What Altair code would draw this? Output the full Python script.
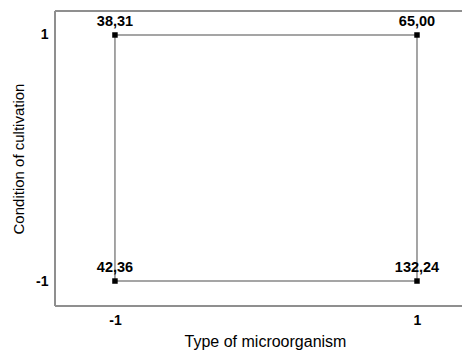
import altair as alt
import pandas as pd

# Data
micro = [-1, 1, -1, 1]
cond = [1, 1, -1, -1]
labels = ["38,31", "65,00", "42,36", "132,24"]
path_order = [0, 1, 3, 2]
tick_values = [-1, 1]

pts = pd.DataFrame({"micro": micro, "cond": cond, "label": labels, "order": path_order})
path = pd.concat([pts, pts[pts["order"] == 0].assign(order=4)], ignore_index=True)

FONT = "Liberation Sans"
W, H = 407, 295
LBL = "datum.value < 0 ? '-1' : '1'"

xs = alt.Scale(domain=[-1.397, 1.298], nice=False, zero=False)
ys = alt.Scale(domain=[-1.203, 1.195], nice=False, zero=False)

xenc = alt.X("micro:Q", scale=xs, title="Type of microorganism",
             axis=alt.Axis(values=tick_values, tickSize=0, domain=False, grid=False,
                           labelExpr=LBL,
                           labelFont=FONT, labelFontSize=14, labelFontWeight="bold",
                           labelColor="#000", labelPadding=7,
                           titleFont=FONT, titleFontSize=16, titleFontWeight="normal",
                           titleColor="#000", titlePadding=6, titleX=210))
yenc = alt.Y("cond:Q", scale=ys, title="Condition of cultivation",
             axis=alt.Axis(values=tick_values, tickSize=0, domain=False, grid=False,
                           labelExpr=LBL,
                           labelFont=FONT, labelFontSize=14, labelFontWeight="bold",
                           labelColor="#000", labelPadding=7,
                           titleFont=FONT, titleFontSize=15, titleFontWeight="normal",
                           titleColor="#000", titlePadding=9))

lines = alt.Chart(path).mark_line(color="#888888", strokeWidth=1.5).encode(
    x=xenc, y=yenc, order="order:Q")
squares = alt.Chart(pts).mark_square(color="black", size=30, opacity=1).encode(
    x="micro:Q", y="cond:Q")
texts = alt.Chart(pts).mark_text(font=FONT, fontSize=14.5, fontWeight="bold",
                                 color="#000", dy=-13).encode(
    x="micro:Q", y="cond:Q", text="label:N")

frame_top = alt.Chart(pts).mark_rule(color="#8f8f8f", strokeWidth=1.5).encode(
    x=alt.value(0), x2=alt.value(W + 5), y=alt.value(0))
frame_bottom = alt.Chart(pts).mark_rule(color="#8f8f8f", strokeWidth=1.5).encode(
    x=alt.value(0), x2=alt.value(W + 5), y=alt.value(H))
frame_left = alt.Chart(pts).mark_rule(color="#8f8f8f", strokeWidth=1.5).encode(
    x=alt.value(0), y=alt.value(0), y2=alt.value(H))

chart = alt.layer(frame_top, frame_bottom, frame_left, lines, squares, texts).properties(
    width=W, height=H,
    autosize=alt.AutoSizeParams(type="none"),
    padding={"left": 47, "top": 3, "right": 0, "bottom": 46},
    background="white",
).configure_view(stroke=None)

chart.save("out.html", embed_options={"renderer": "svg", "actions": False})
